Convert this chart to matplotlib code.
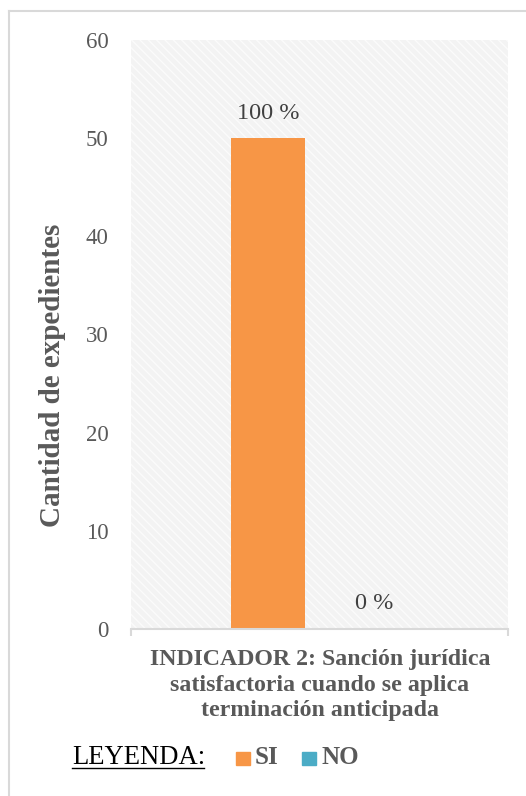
import matplotlib.pyplot as plt
from matplotlib.patches import Rectangle
from matplotlib.lines import Line2D

# datos
categoria = "INDICADOR 2: Sanción jurídica\nsatisfactoria cuando se aplica\nterminación anticipada"
series = ["SI", "NO"]
valores = [50, 0]
etiquetas = ["100 %", "0 %"]
colores = ["#f79646", "#4bacc6"]
yticks = [0, 10, 20, 30, 40, 50, 60]

gris = "#595959"
serif = ["Liberation Serif", "DejaVu Serif"]

fig = plt.figure(figsize=(5.26, 7.96), dpi=100)
W, H = 526, 796

# borde exterior del gráfico (solo izquierda y arriba quedan dentro de la imagen)
fig.add_artist(Line2D([9.5 / W, 9.5 / W], [0, 1 - 11 / H], color="#d9d9d9", linewidth=1.5))
fig.add_artist(Line2D([9.5 / W, 1], [1 - 11 / H, 1 - 11 / H], color="#d9d9d9", linewidth=1.5))

ax = fig.add_axes([131 / W, 1 - 629 / H, 377 / W, 589 / H])
ax.set_facecolor("#f3f3f3")
ax.add_patch(Rectangle((0, 0), 1, 1, transform=ax.transAxes, fill=False,
                       hatch="\\\\\\\\", edgecolor="#fbfbfb", linewidth=0, zorder=0))

pos = [-0.5, 0.5]
ancho = 0.70
for x, v, c, t in zip(pos, valores, colores, etiquetas):
    ax.bar(x, v, width=ancho, color=c, zorder=2)
    ax.text(x, v + 2.55, t, ha="center", va="center", fontsize=17.5,
            family=serif, color="#404040")

ax.set_xlim(-1.79, 1.76)
ax.set_ylim(0, 60)
ax.set_yticks(yticks)
ax.set_yticklabels([str(t) for t in yticks], family=serif, fontsize=16.5, color=gris)
ax.tick_params(axis="y", length=0, pad=16)
ax.set_xticks(ax.get_xlim())
ax.set_xticklabels([])
ax.tick_params(axis="x", length=5, color="#d9d9d9", width=1.5)
for s in ["top", "right", "left"]:
    ax.spines[s].set_visible(False)
ax.spines["bottom"].set_color("#d9d9d9")
ax.spines["bottom"].set_linewidth(1.5)

# título del eje y
fig.text(53 / W, 1 - 375 / H, "Cantidad de expedientes", rotation=90, ha="center", va="center",
         family=serif, fontsize=21, fontweight="bold", color=gris)

# título del eje x
fig.text(320 / W, 1 - 685 / H, categoria, ha="center", va="center", family=serif,
         fontsize=17.2, fontweight="bold", color=gris, linespacing=1.3)

# leyenda
fig.text(72 / W, 1 - 758 / H, "LEYENDA:", ha="left", va="center", family=serif,
         fontsize=19.2, color="black")
fig.add_artist(Line2D([72 / W, 204 / W], [1 - 768 / H, 1 - 768 / H], color="black", linewidth=1))
x0 = [236, 302]
for xs, s, c in zip(x0, series, colores):
    fig.patches.append(Rectangle((xs / W, 1 - 765 / H), 14 / W, 13 / H,
                                 transform=fig.transFigure, color=c))
    fig.text((xs + 19) / W, 1 - 758 / H, s, ha="left", va="center", family=serif,
             fontsize=18, fontweight="bold", color=gris)

fig.savefig("out.png", dpi=100)
